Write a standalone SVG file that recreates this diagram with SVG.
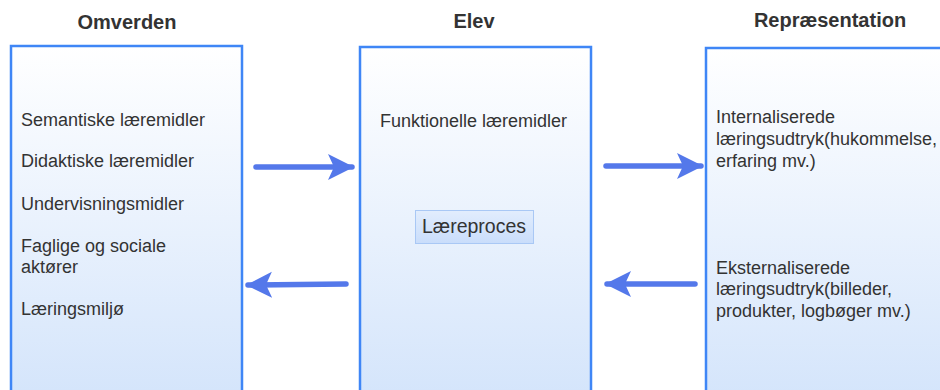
<svg xmlns="http://www.w3.org/2000/svg" width="940" height="390" viewBox="0 0 940 390">
<style>
.title{font-family:"Liberation Sans",Arial,sans-serif;font-size:20px;font-weight:bold;fill:#333;text-anchor:middle}
.t{font-family:"Liberation Sans",Arial,sans-serif;font-size:18px;fill:#333}
.box{fill:url(#g);stroke:#3f86f6;stroke-width:2.5}
.conn{stroke:#5478ea;stroke-width:5.5;stroke-linecap:round;fill:none}
</style>
<defs>
<linearGradient id="g" x1="0" y1="0" x2="0" y2="1">
<stop offset="0" stop-color="#ffffff"/>
<stop offset="1" stop-color="#d3e4fb"/>
</linearGradient>
<linearGradient id="g2" x1="0" y1="0" x2="0" y2="1">
<stop offset="0" stop-color="#e2edfd"/>
<stop offset="1" stop-color="#c9ddfb"/>
</linearGradient>
<marker id="ah" markerUnits="userSpaceOnUse" markerWidth="28" markerHeight="28" refX="24" refY="13" orient="auto">
<path d="M0,0 L26,13 L0,26 L6,13 Z" fill="#5478ea"/>
</marker>
</defs>
<g id="omverden">
<rect class="box" x="11" y="46" width="231" height="360"/>
<text class="title" x="127" y="29">Omverden</text>
<text class="t" x="21" y="126">Semantiske læremidler</text>
<text class="t" x="21" y="167">Didaktiske læremidler</text>
<text class="t" x="21" y="210">Undervisningsmidler</text>
<text class="t" x="21" y="252">Faglige og sociale</text>
<text class="t" x="21" y="273">aktører</text>
<text class="t" x="21" y="315">Læringsmiljø</text>
</g>
<g id="elev">
<rect class="box" x="360" y="47" width="231" height="360"/>
<text class="title" x="474" y="28">Elev</text>
<text class="t" x="380" y="127">Funktionelle læremidler</text>
</g>
<g id="laereproces">
<rect x="415.5" y="210.5" width="118" height="33" fill="url(#g2)" stroke="#a9c8f5" stroke-width="1"/>
<text class="t" x="474" y="233" text-anchor="middle" style="font-size:19.5px">Læreproces</text>
</g>
<g id="repraesentation">
<rect class="box" x="706" y="48" width="250" height="360"/>
<text class="title" x="830" y="27">Repræsentation</text>
<text class="t" x="716" y="123">Internaliserede</text>
<text class="t" x="716" y="145">læringsudtryk(hukommelse,</text>
<text class="t" x="716" y="167">erfaring mv.)</text>
<text class="t" x="716" y="274">Eksternaliserede</text>
<text class="t" x="716" y="295">læringsudtryk(billeder,</text>
<text class="t" x="716" y="317">produkter, logbøger mv.)</text>
</g>
<g id="connectors">
<path class="conn" d="M256,167 L352,167" marker-end="url(#ah)"/>
<path class="conn" d="M346,284 L248,285" marker-end="url(#ah)"/>
<path class="conn" d="M606,166 L701,166" marker-end="url(#ah)"/>
<path class="conn" d="M695,284 L607,284" marker-end="url(#ah)"/>
</g>
</svg>
